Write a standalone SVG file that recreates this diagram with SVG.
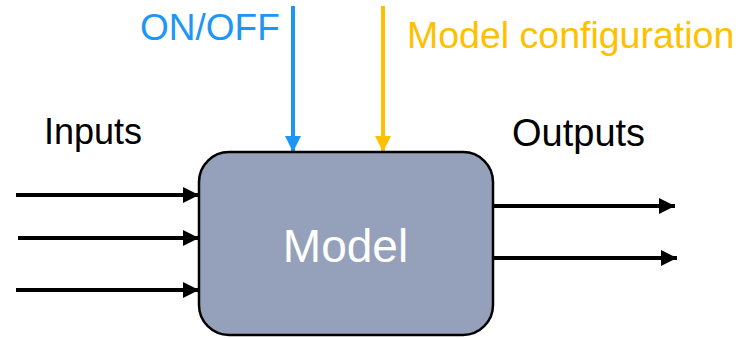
<svg xmlns="http://www.w3.org/2000/svg" width="739" height="338" viewBox="0 0 739 338">
<defs>
<marker id="ak" viewBox="0 0 10 10" refX="10" refY="5" markerWidth="4" markerHeight="4" markerUnits="strokeWidth" orient="auto"><path d="M0,0 L10,5 L0,10 z" fill="#000"/></marker>
<marker id="ab" viewBox="0 0 10 10" refX="10" refY="5" markerWidth="4" markerHeight="4" markerUnits="strokeWidth" orient="auto"><path d="M0,0 L10,5 L0,10 z" fill="#1E96F5"/></marker>
<marker id="ay" viewBox="0 0 10 10" refX="10" refY="5" markerWidth="4" markerHeight="4" markerUnits="strokeWidth" orient="auto"><path d="M0,0 L10,5 L0,10 z" fill="#FFC000"/></marker>
</defs>
<style>
.t{font-family:"Liberation Sans",Arial,sans-serif;font-size:36px}
.k{stroke:#000;stroke-width:4;fill:none}
</style>
<g id="connectors">
<line class="k" x1="16" y1="195" x2="199" y2="195" marker-end="url(#ak)"/>
<line class="k" x1="18" y1="238" x2="199" y2="238" marker-end="url(#ak)"/>
<line class="k" x1="16" y1="290" x2="199" y2="290" marker-end="url(#ak)"/>
<line class="k" x1="493" y1="206" x2="675" y2="206" marker-end="url(#ak)"/>
<line class="k" x1="493" y1="258" x2="677" y2="258" marker-end="url(#ak)"/>
<line x1="293" y1="6" x2="293" y2="152" stroke="#1E96F5" stroke-width="4" marker-end="url(#ab)"/>
<line x1="383" y1="6" x2="383" y2="152" stroke="#FFC000" stroke-width="4" marker-end="url(#ay)"/>
</g>
<g id="model">
<rect x="199" y="152" width="294" height="183" rx="30" ry="30" fill="#95A1BA" stroke="#000" stroke-width="2.5"/>
<text class="t" x="345.5" y="262" text-anchor="middle" fill="#fff" style="font-size:46px">Model</text>
</g>
<g id="labels">
<text class="t" x="140" y="40" fill="#1E96F5" style="font-size:37px">ON/OFF</text>
<text class="t" x="407" y="48" fill="#FFC000" style="font-size:37.5px">Model configuration</text>
<text class="t" x="44" y="144" fill="#000">Inputs</text>
<text class="t" x="512" y="146" fill="#000" style="font-size:38px">Outputs</text>
</g>
</svg>
